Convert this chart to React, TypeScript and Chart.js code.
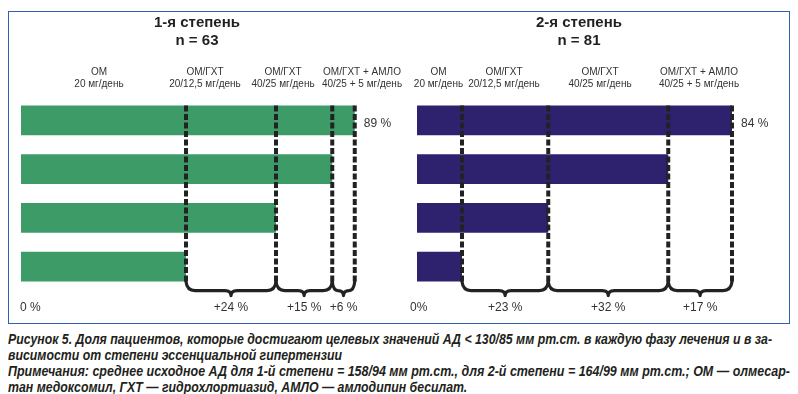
import React, { useEffect, useRef } from "react";
import { Chart, registerables } from "chart.js";

Chart.register(...registerables);

// Phases, top row = final phase
const phases = ["Фаза 4", "Фаза 3", "Фаза 2", "Фаза 1"];
const grade1Values = [89, 83, 68, 44];
const grade2Values = [84, 67, 35, 12];
const phaseLabelLines = [
  ["ОМ", "20 мг/день"],
  ["ОМ/ГХТ", "20/12,5 мг/день"],
  ["ОМ/ГХТ", "40/25 мг/день"],
  ["ОМ/ГХТ + АМЛО", "40/25 + 5 мг/день"],
];
const grade1Title = ["1-я степень", "n = 63"];
const grade2Title = ["2-я степень", "n = 81"];
const grade1Zero = "0 %";
const grade2Zero = "0%";
const axisMax = 95;

const captionLines = [
  "Рисунок 5. Доля пациентов, которые достигают целевых значений АД < 130/85 мм рт.ст. в каждую фазу лечения и в за-",
  "висимости от степени эссенциальной гипертензии",
  "Примечания: среднее исходное АД для 1-й степени = 158/94 мм рт.ст., для 2-й степени = 164/99 мм рт.ст.; ОМ — олмесар-",
  "тан медоксомил, ГХТ — гидрохлортиазид, АМЛО — амлодипин бесилат.",
];

const TEXT = "#231f20";
const FONT = "'Liberation Sans', Arial, sans-serif";
const CAPTION_FONT = `italic bold 15px 'Liberation Sans', Arial, sans-serif`;

type PanelCfg = {
  values: number[];
  color: string;
  title: string[];
  zero: string;
  zeroOffset: number;
  titleX: number;
  phaseX: number[];
  width: number;
  padLeft: number;
  left: number;
};

function drawBrace(ctx: CanvasRenderingContext2D, x1: number, x2: number, y: number) {
  const mid = (x1 + x2) / 2;
  const half = (x2 - x1) / 2;
  const r = Math.min(9, half / 2);
  const t = Math.min(6, half / 2);
  const h = 9;
  const tip = 14;
  ctx.beginPath();
  ctx.moveTo(x1, y);
  ctx.quadraticCurveTo(x1 + 1, y + h, x1 + r, y + h);
  ctx.lineTo(mid - t, y + h);
  ctx.quadraticCurveTo(mid, y + h, mid, y + tip);
  ctx.quadraticCurveTo(mid, y + h, mid + t, y + h);
  ctx.lineTo(x2 - r, y + h);
  ctx.quadraticCurveTo(x2 - 1, y + h, x2, y);
  ctx.stroke();
}

function Panel({ cfg }: { cfg: PanelCfg }) {
  const ref = useRef<HTMLCanvasElement>(null);
  useEffect(() => {
    if (!ref.current) return;
    const overlay = {
      id: "overlay",
      afterDatasetsDraw(chart: any) {
        const ctx: CanvasRenderingContext2D = chart.ctx;
        const meta = chart.getDatasetMeta(0);
        const els = meta.data as any[];
        const xScale = chart.scales.x;
        const area = chart.chartArea;
        const top = els[0].y - els[0].height / 2;
        const bottom = els[els.length - 1].y + els[els.length - 1].height / 2;
        const sorted = [...cfg.values].sort((a, b) => a - b);
        const xs = sorted.map((v) => xScale.getPixelForValue(v));
        ctx.save();
        // dashed verticals
        ctx.strokeStyle = "#222";
        ctx.lineWidth = 4;
        ctx.setLineDash([6, 2.5]);
        xs.forEach((x) => {
          ctx.beginPath();
          ctx.moveTo(x, top);
          ctx.lineTo(x, bottom);
          ctx.stroke();
        });
        ctx.setLineDash([]);
        // braces
        ctx.lineWidth = 3.2;
        ctx.lineCap = "round";
        ctx.lineJoin = "round";
        for (let i = 0; i < xs.length - 1; i++) drawBrace(ctx, xs[i], xs[i + 1], bottom);
        // delta labels
        ctx.fillStyle = "#333";
        ctx.font = `12px ${FONT}`;
        ctx.textAlign = "center";
        ctx.textBaseline = "middle";
        for (let i = 0; i < xs.length - 1; i++) {
          ctx.fillText(`+${sorted[i + 1] - sorted[i]} %`, (xs[i] + xs[i + 1]) / 2, bottom + 26);
        }
        ctx.textAlign = "left";
        ctx.fillText(cfg.zero, area.left + cfg.zeroOffset, bottom + 26);
        // top value label
        ctx.fillText(`${cfg.values[0]} %`, els[0].x + 9, els[0].y + 3);
        // title
        ctx.fillStyle = TEXT;
        ctx.font = `bold 15px ${FONT}`;
        ctx.textAlign = "center";
        ctx.fillText(cfg.title[0], cfg.titleX, 11);
        ctx.fillText(cfg.title[1], cfg.titleX, 29);
        // phase labels
        ctx.font = `10px ${FONT}`;
        ctx.fillStyle = "#333";
        phaseLabelLines.forEach((lines, i) => {
          ctx.fillText(lines[0], cfg.phaseX[i], 60);
          ctx.fillText(lines[1], cfg.phaseX[i], 72);
        });
        ctx.restore();
      },
    };
    const chart = new Chart(ref.current, {
      type: "bar",
      data: {
        labels: phases,
        datasets: [
          {
            data: cfg.values,
            backgroundColor: cfg.color,
            borderWidth: 0,
            barPercentage: 0.614,
            categoryPercentage: 1,
          },
        ],
      },
      options: {
        indexAxis: "y",
        responsive: false,
        animation: false,
        devicePixelRatio: 1,
        layout: {
          padding: {
            left: cfg.padLeft,
            right: cfg.width - cfg.padLeft - axisMax * 3.75,
            top: 84,
            bottom: 32,
          },
        },
        scales: {
          x: { display: false, min: 0, max: axisMax },
          y: { display: false },
        },
        plugins: { legend: { display: false }, tooltip: { enabled: false } },
      },
      plugins: [overlay],
    } as any);
    return () => chart.destroy();
  }, [cfg]);
  return (
    <canvas
      ref={ref}
      width={cfg.width}
      height={311}
      style={{ display: "block", position: "absolute", left: cfg.left, top: 0 }}
    />
  );
}

const leftCfg: PanelCfg = {
  values: grade1Values,
  color: "#3d9b68",
  title: grade1Title,
  zero: grade1Zero,
  zeroOffset: -1,
  titleX: 188,
  phaseX: [90, 196, 274, 353],
  width: 400,
  padLeft: 12,
  left: 0,
};
const rightCfg: PanelCfg = {
  values: grade2Values,
  color: "#2e216e",
  title: grade2Title,
  zero: grade2Zero,
  zeroOffset: -7,
  titleX: 179,
  phaseX: [38.5, 104, 200, 299],
  width: 389,
  padLeft: 17,
  left: 391,
};

function measure(text: string): number {
  const c = document.createElement("canvas").getContext("2d")!;
  c.font = CAPTION_FONT;
  return c.measureText(text).width;
}

export default function App() {
  const k1 = 764 / measure(captionLines[0]);
  const k3 = 782 / measure(captionLines[2]);
  const scales = [k1, k1, k3, k1];
  return (
    <div>
      <div
        style={{
          marginTop: 3,
          width: 780,
          height: 311,
          border: "1px solid #3060b0",
          position: "relative",
        }}
      >
        <Panel cfg={leftCfg} />
        <Panel cfg={rightCfg} />
      </div>
      <div
        style={{
          marginTop: 7,
          font: CAPTION_FONT,
          lineHeight: "16px",
          color: TEXT,
          whiteSpace: "nowrap",
        }}
      >
        {captionLines.map((l, i) => (
          <div
            key={i}
            style={{ transform: `scaleX(${scales[i]})`, transformOrigin: "0 0", width: "max-content" }}
          >
            {l}
          </div>
        ))}
      </div>
    </div>
  );
}
